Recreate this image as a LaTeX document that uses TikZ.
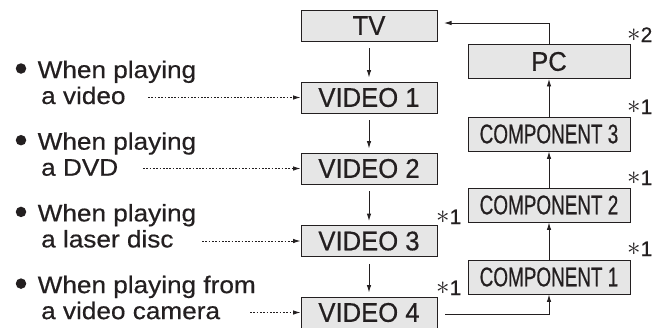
\documentclass[tikz,border=0pt]{standalone}
\usepackage{fontspec}
\setmainfont{Liberation Sans}[FakeBold=0.5]
\newfontfamily\boxfont[FakeStretch=0.95,FakeBold=0.5]{Liberation Sans}
\newfontfamily\widefont[FakeStretch=1.09,FakeBold=0.5]{Liberation Sans}
\newfontfamily\narrowfont[FakeStretch=0.70,FakeBold=0.5]{Liberation Sans}
\usetikzlibrary{arrows.meta}
\definecolor{boxgray}{HTML}{E6E6E6}
\definecolor{ink}{HTML}{231F20}
\begin{document}
\begin{tikzpicture}[x=1pt,y=-1pt,
  vbox/.style={draw=ink, fill=boxgray, line width=0.9pt, inner sep=0pt,
    minimum width=136pt, minimum height=31pt, text=ink,
    font=\boxfont\fontsize{27}{27}\selectfont},
  cbox/.style={draw=ink, fill=boxgray, line width=0.9pt, inner sep=0pt,
    minimum width=162pt, minimum height=34pt, text=ink,
    font=\boxfont\fontsize{27}{27}\selectfont},
  ltext/.style={anchor=base west, inner sep=0pt, text=ink,
    font=\widefont\fontsize{24}{26}\selectfont},
  dot/.style={circle, fill=ink, inner sep=0pt, minimum size=10.5pt},
  star/.style={anchor=base west, inner sep=0pt, text=ink,
    font=\fontsize{21}{21}\selectfont},
  arr/.style={draw=ink, line width=0.9pt, -{Latex[length=7.5pt,width=4.5pt]}},
  dotarr/.style={arr, dash pattern=on 1.7pt off 1.6pt}
]
\useasboundingbox (0,0) rectangle (667,327);

% left column of video boxes
\node[vbox] (tv) at (369,25.5) {TV};
\node[vbox] (v1) at (369,97.5) {VIDEO 1};
\node[vbox] (v2) at (369,168.5) {VIDEO 2};
\node[vbox] (v3) at (369,241) {VIDEO 3};
\node[vbox] (v4) at (369,312.5) {VIDEO 4};

% right column
\node[cbox] (pc) at (549,61.5) {PC};
\node[cbox] (c3) at (549,134) {\narrowfont COMPONENT 3};
\node[cbox] (c2) at (549,205) {\narrowfont COMPONENT 2};
\node[cbox] (c1) at (549,277) {\narrowfont COMPONENT 1};

% down arrows
\foreach \a/\b in {tv/v1, v1/v2, v2/v3, v3/v4}
  \draw[arr, shorten <=7pt, shorten >=4pt] (\a.south) -- (\b.north);

% up arrows
\draw[arr] (c1.north) -- (c2.south);
\draw[arr] (c2.north) -- (c3.south);
\draw[arr] (c3.north) -- (pc.south);
\coordinate (tvin) at (444,23);
\draw[arr] (pc.north) |- (tvin);
\coordinate (v4out) at (445,314);
\draw[arr] (v4out) -| (c1.south);

% asterisk labels
\node[star] (s2)  at (627,42)  {\raisebox{1pt}{\scalebox{1.3}{$\ast$}}2};
\node[star] (s3)  at (627,114) {\raisebox{1pt}{\scalebox{1.3}{$\ast$}}1};
\node[star] (s4)  at (627,185) {\raisebox{1pt}{\scalebox{1.3}{$\ast$}}1};
\node[star] (s5)  at (627,256) {\raisebox{1pt}{\scalebox{1.3}{$\ast$}}1};
\node[star] (s6)  at (436,224) {\raisebox{1pt}{\scalebox{1.3}{$\ast$}}1};
\node[star] (s7)  at (436,295) {\raisebox{1pt}{\scalebox{1.3}{$\ast$}}1};

% left texts
\node[dot] (b1) at (21,68.5) {};
\node[ltext] (t1a) at (37.5,78) {When playing};
\node[ltext] (t1b) at (41,104) {a video};
\node[dot] (b2) at (21,140.2) {};
\node[ltext] (t2a) at (37.5,149.7) {When playing};
\node[ltext] (t2b) at (41,175.7) {a DVD};
\node[dot] (b3) at (21,211.9) {};
\node[ltext] (t3a) at (37.5,221.4) {When playing};
\node[ltext] (t3b) at (41,247.4) {a laser disc};
\node[dot] (b4) at (21,283.6) {};
\node[ltext] (t4a) at (37.5,293.1) {When playing from};
\node[ltext] (t4b) at (41,319.1) {a video camera};

% dotted arrows
\coordinate (d1) at (148,97.5);
\coordinate (d2) at (143,168.5);
\coordinate (d3) at (202,241);
\coordinate (d4) at (250,312.5);
\draw[dotarr] (d1) -- (v1.west);
\draw[dotarr] (d2) -- (v2.west);
\draw[dotarr] (d3) -- (v3.west);
\draw[dotarr] (d4) -- (v4.west);
\end{tikzpicture}
\end{document}
